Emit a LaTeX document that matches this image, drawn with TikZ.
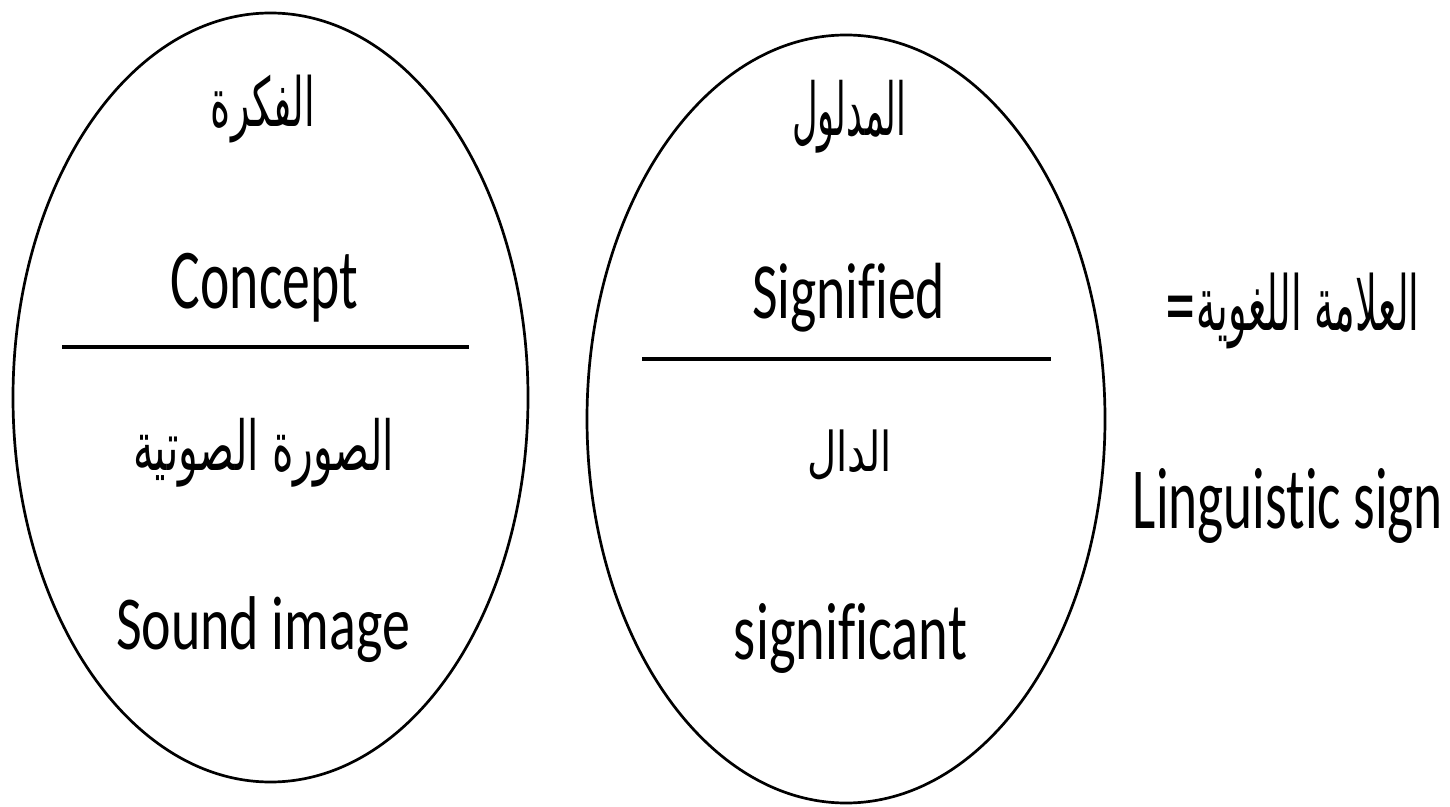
\documentclass[tikz,border=0pt]{standalone}
\usepackage{fontspec}
\usepackage{graphicx}
\usetikzlibrary{shapes.geometric}
\setmainfont{Carlito}[Ligatures=NoCommon]
\newfontfamily\arabicfont[Script=Arabic]{DejaVu Sans}
\TeXXeTstate=1
\newdimen\px \px=0.5pt
% fit text into an ink box of given width and total height (in px)
\newcommand\fitbox[3]{\resizebox*{#1\px}{#2\px}{#3}}
\newcommand\ar[1]{{\arabicfont\beginR #1\endR}}
\begin{document}
\begin{tikzpicture}[x=0.5pt,y=-0.5pt,
  sign/.style={draw, ellipse, line width=1.35pt, inner sep=0pt, outer sep=0pt},
  txt/.style={inner sep=0pt, outer sep=0pt, anchor=center},
  bar/.style={line width=2pt}]
\fill[white] (0,0) rectangle (1450,807);
\useasboundingbox (0,0) rectangle (1450,807);

% left ellipse
\node[sign, minimum width=515\px, minimum height=769\px] (leftsign) at (270.5,397.5) {};
\node[txt] (ideaar)   at (263,109)   {\fitbox{104}{68}{\ar{الفكرة}}};
\node[txt] (concept)  at (264.5,287.5) {\fitbox{187}{69}{Concept}};
\coordinate (l1a) at (62,347);
\coordinate (l1b) at (469,347);
\draw[bar] (l1a) -- (l1b);
\node[txt] (soundar)  at (263.5,452.5) {\fitbox{261}{69}{\ar{الصورة الصوتية}}};
\node[txt] (sound)    at (263,630)   {\fitbox{294}{66}{Sound image}};

% right ellipse
\node[sign, minimum width=518\px, minimum height=768\px] (rightsign) at (846,419) {};
\node[txt] (signifiedar) at (849,116.5) {\fitbox{114}{73}{\ar{المدلول}}};
\node[txt] (signified)   at (848.5,297.5) {\fitbox{193}{69}{Signified}};
\coordinate (l2a) at (642,359);
\coordinate (l2b) at (1051,359);
\draw[bar] (l2a) -- (l2b);
\node[txt] (signifierar) at (849.5,455) {\fitbox{85}{50}{\ar{الدال}}};
\node[txt] (signifier)   at (850.5,638) {\fitbox{233}{70}{significant}};

% right-hand labels
\node[txt] (signar) at (1292,311) {\fitbox{255}{76}{\ar{العلامة اللغوية=}}};
\node[txt] (sign)   at (1288,505.5) {\fitbox{310}{75}{Linguistic sign}};
\end{tikzpicture}
\end{document}
